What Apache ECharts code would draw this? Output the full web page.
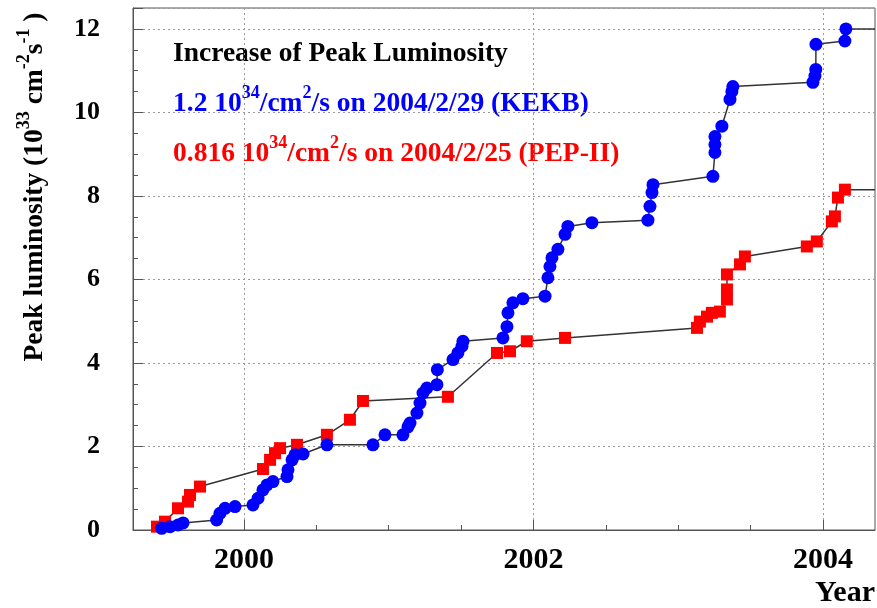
<!DOCTYPE html>
<html>
<head>
<meta charset="utf-8">
<script src="https://cdn.jsdelivr.net/npm/echarts@6/dist/echarts.min.js"></script>
<style>html,body{margin:0;padding:0;background:#fff;}#c{width:877px;height:608px;}</style>
</head>
<body>
<div id="c"></div>
<script>
// ---- data ----
const kekbYear = [1999.431,1999.489,1999.544,1999.579,1999.811,1999.834,1999.869,1999.938,2000.062,2000.097,2000.131,2000.159,2000.200,2000.297,2000.304,2000.332,2000.352,2000.408,2000.573,2000.891,2000.974,2001.098,2001.133,2001.147,2001.195,2001.216,2001.237,2001.264,2001.333,2001.336,2001.444,2001.478,2001.506,2001.513,2001.789,2001.817,2001.824,2001.858,2001.927,2002.080,2002.100,2002.114,2002.128,2002.169,2002.218,2002.238,2002.404,2002.791,2002.805,2002.819,2002.826,2003.240,2003.254,2003.254,2003.254,2003.302,2003.358,2003.371,2003.378,2003.931,2003.945,2003.951,2003.952,2004.152,2004.159];
const kekbLum  = [0.04,0.08,0.12,0.17,0.24,0.40,0.52,0.56,0.60,0.76,0.96,1.08,1.16,1.28,1.44,1.68,1.80,1.82,2.04,2.04,2.28,2.28,2.47,2.56,2.80,3.04,3.28,3.40,3.48,3.84,4.08,4.24,4.40,4.52,4.60,4.87,5.20,5.44,5.54,5.60,6.04,6.31,6.52,6.72,7.08,7.27,7.36,7.42,7.75,8.08,8.27,8.47,9.04,9.23,9.42,9.67,10.31,10.50,10.62,10.72,10.87,11.03,11.63,11.71,12.00];
const pepYear  = [1999.399,1999.454,1999.544,1999.613,1999.627,1999.696,2000.131,2000.180,2000.214,2000.249,2000.366,2000.573,2000.732,2000.822,2001.409,2001.748,2001.838,2001.954,2002.218,2003.130,2003.150,2003.199,2003.233,2003.288,2003.337,2003.337,2003.337,2003.427,2003.461,2003.889,2003.958,2004.062,2004.083,2004.104,2004.152];
const pepLum   = [0.08,0.20,0.52,0.68,0.84,1.04,1.46,1.68,1.84,1.96,2.04,2.28,2.64,3.09,3.19,4.24,4.28,4.52,4.60,4.84,4.99,5.11,5.20,5.23,5.52,5.76,6.12,6.36,6.55,6.79,6.91,7.39,7.51,7.96,8.15];
const xRange = [1999.233, 2004.36];
const yRange = [0, 12.5];
const xMajorTicks = [2000, 2002, 2004];
const xMinorTicks = [1999.5, 2000, 2000.5, 2001, 2001.5, 2002, 2002.5, 2003, 2003.5, 2004];
const yTickStep = 2, yMinorStep = 0.5;
const titleText = 'Increase of Peak Luminosity';
const kekbText = ['1.2 10','34','/cm','2','/s on 2004/2/29 (KEKB)'];
const pepText  = ['0.816 10','34','/cm','2','/s on 2004/2/25 (PEP-II)'];
const yTitle = ['Peak luminosity (10','33',' cm','-2','s','-1',' )'];
const xTitle = 'Year';

// ---- build ----
const FF = '"Liberation Serif", "Times New Roman", serif';
function pairs(xs, ys, endX) {
  const d = xs.map((x, i) => [x, ys[i]]);
  d.push({ value: [endX, ys[ys.length - 1]], symbol: 'none' });
  return d;
}
function richStr(parts) {
  return parts.map((p, i) => (i % 2 === 0 ? '{b|' : '{s|') + p + '}').join('');
}
function rich(color) {
  return {
    b: { fontSize: 27.5, fontWeight: 'bold', fontFamily: FF, fill: color, color: color, verticalAlign: 'bottom', lineHeight: 34 },
    s: { fontSize: 18, fontWeight: 'bold', fontFamily: FF, fill: color, color: color, verticalAlign: 'top', lineHeight: 18 }
  };
}
const gridCol = '#9a9a9a';
const axisCol = '#555';
const chart = echarts.init(document.getElementById('c'), null, { renderer: 'canvas' });
chart.setOption({
  animation: false,
  backgroundColor: '#fff',
  grid: { left: 133, right: 2, top: 8, bottom: 78, show: true, borderColor: axisCol, borderWidth: 1, backgroundColor: 'transparent' },
  xAxis: [
    { type: 'value', min: xRange[0], max: xRange[1], position: 'bottom',
      axisLine: { show: true, lineStyle: { color: axisCol, width: 1 } },
      axisTick: { show: true, inside: true, length: 10, lineStyle: { color: axisCol }, customValues: xMajorTicks },
      axisLabel: { margin: 15, fontSize: 30, fontWeight: 'bold', fontFamily: FF, color: '#000',
        customValues: xMajorTicks, formatter: v => String(v) },
      splitLine: { show: true, lineStyle: { type: [2, 3], color: gridCol, width: 1 } } },
    { type: 'value', min: xRange[0], max: xRange[1], position: 'bottom',
      axisLine: { show: false },
      axisTick: { show: true, inside: true, length: 5, lineStyle: { color: axisCol }, customValues: xMinorTicks },
      axisLabel: { show: false }, splitLine: { show: false } }
  ],
  yAxis: [
    { type: 'value', min: yRange[0], max: yRange[1], interval: yTickStep, position: 'left',
      axisLine: { show: true, lineStyle: { color: axisCol, width: 1 } },
      axisTick: { show: true, inside: true, length: 10, lineStyle: { color: axisCol } },
      axisLabel: { margin: 33, fontSize: 26, fontWeight: 'bold', fontFamily: FF, color: '#000',
        formatter: v => (Math.abs(v % 2) < 1e-9 ? String(v) : '') },
      splitLine: { show: true, lineStyle: { type: [2, 3], color: gridCol, width: 1 } } },
    { type: 'value', min: yRange[0], max: yRange[1], interval: yMinorStep, position: 'left',
      axisLine: { show: false }, axisTick: { show: true, inside: true, length: 5, lineStyle: { color: axisCol } },
      axisLabel: { show: false }, splitLine: { show: false } }
  ],
  series: [
    { name: 'PEP-II', type: 'line', xAxisIndex: 0, yAxisIndex: 0, data: pairs(pepYear, pepLum, xRange[1]),
      symbol: 'rect', symbolSize: 12, itemStyle: { color: '#ff0000' },
      lineStyle: { color: '#333', width: 1.5 }, z: 2 },
    { name: 'KEKB', type: 'line', xAxisIndex: 0, yAxisIndex: 0, data: pairs(kekbYear, kekbLum, xRange[1]),
      symbol: 'circle', symbolSize: 13, itemStyle: { color: '#0000ff' },
      lineStyle: { color: '#333', width: 1.5 }, z: 3 }
  ],
  graphic: [
    { type: 'text', x: 173, y: 34, style: { text: '{b|' + titleText + '}', rich: rich('#000'), align: 'left', verticalAlign: 'top' } },
    { type: 'text', x: 173, y: 84, style: { text: richStr(kekbText), rich: rich('#0000ff'), align: 'left', verticalAlign: 'top' } },
    { type: 'text', x: 173, y: 134, style: { text: richStr(pepText), rich: rich('#ff0000'), align: 'left', verticalAlign: 'top' } },
    { type: 'text', x: 32, y: 187, rotation: Math.PI / 2,
      style: { text: richStr(yTitle), rich: rich('#000'), align: 'center', verticalAlign: 'middle' } },
    { type: 'text', right: 2, top: 578, style: { text: xTitle, font: 'bold 30px ' + FF, fill: '#000' } }
  ]
});
</script>
</body>
</html>
